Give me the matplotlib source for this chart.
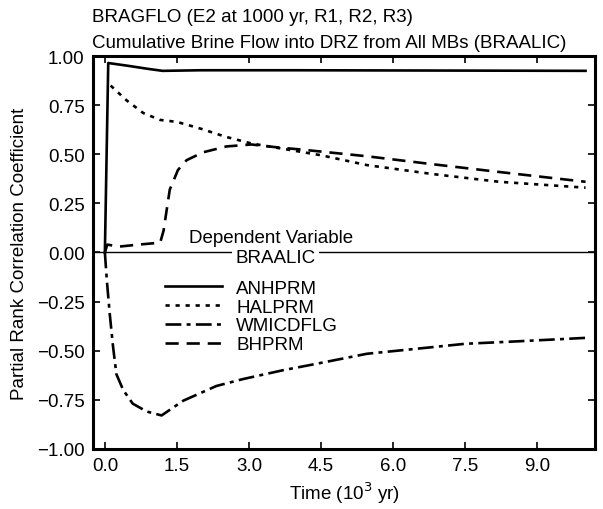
import matplotlib
matplotlib.use("Agg")
import matplotlib.pyplot as plt

plt.rcParams['font.family'] = ['Liberation Sans', 'DejaVu Sans']

# time in 10^3 yr, PRCC values
anh_t = [0.0, 0.07, 0.5, 0.9, 1.2, 2.0, 4.0, 6.0, 8.0, 10.0]
anh_v = [0.0, 0.965, 0.95, 0.935, 0.925, 0.928, 0.928, 0.927, 0.926, 0.925]

hal_t = [0.12, 0.45, 0.8, 1.15, 1.5, 2.0, 2.5, 3.05, 3.9, 4.5, 5.45, 6.8, 8.2, 10.0]
hal_v = [0.85, 0.775, 0.71, 0.675, 0.665, 0.63, 0.59, 0.555, 0.52, 0.495, 0.445, 0.40, 0.36, 0.33]

wmi_t = [0.0, 0.04, 0.1, 0.17, 0.24, 0.38, 0.58, 0.87, 1.18, 1.63, 2.32, 2.87,
         3.7, 4.4, 5.45, 6.5, 7.5, 8.55, 10.0]
wmi_v = [0.0, -0.14, -0.31, -0.48, -0.62, -0.70, -0.77, -0.81, -0.83, -0.755, -0.68, -0.645,
         -0.60, -0.567, -0.516, -0.49, -0.465, -0.453, -0.435]

bh_t = [0.0, 0.05, 0.3, 0.7, 1.15, 1.22, 1.35, 1.52, 1.7, 2.04, 2.53, 3.05, 3.6, 4.05,
        5.45, 6.8, 8.2, 10.0]
bh_v = [0.0, 0.04, 0.03, 0.04, 0.05, 0.11, 0.32, 0.42, 0.47, 0.51, 0.54, 0.55, 0.535, 0.525,
        0.49, 0.45, 0.41, 0.36]

xticks = [0.0, 1.5, 3.0, 4.5, 6.0, 7.5, 9.0]
yticks = [-1.0, -0.75, -0.5, -0.25, 0.0, 0.25, 0.5, 0.75, 1.0]

fs = 13.5
fig = plt.figure(figsize=(6.03, 5.10), dpi=100)
ax = fig.add_axes([0.154, 0.118, 0.833, 0.770])

lw = 1.9
ax.plot(anh_t, anh_v, color='black', lw=lw, label='ANHPRM')
ax.plot(hal_t, hal_v, color='black', lw=lw, dashes=(1.6, 2.2), label='HALPRM')
ax.plot(wmi_t, wmi_v, color='black', lw=lw, dashes=(6, 2, 1.5, 2), label='WMICDFLG')
ax.plot(bh_t, bh_v, color='black', lw=lw, dashes=(5, 3), label='BHPRM')

ax.axhline(0, color='black', lw=1.0, zorder=1)
ax.text(3.45, 0.075, 'Dependent Variable', ha='center', va='center', fontsize=fs)
ax.text(3.55, -0.025, 'BRAALIC', ha='center', va='center', fontsize=fs,
        bbox=dict(facecolor='white', edgecolor='none', pad=2.5))

ax.legend(loc='upper left', bbox_to_anchor=(0.125, 0.454), frameon=False, fontsize=fs,
          handlelength=3.05, handletextpad=0.75, labelspacing=0.085, borderpad=0)

ax.set_xlim(-0.25, 10.2)
ax.set_ylim(-1.0, 1.0)
ax.set_xticks(xticks)
ax.set_yticks(yticks)
ax.set_xticklabels(['%.1f' % t for t in xticks])
ax.set_yticklabels(['%.2f' % t if t >= 0 else '\u2212%.2f' % -t for t in yticks])
ax.tick_params(direction='in', top=True, right=True, length=5, width=1.2,
               labelsize=fs, pad=6)
for s in ax.spines.values():
    s.set_linewidth(2.2)

ax.set_xlabel('Time (10$^3$ yr)', fontsize=fs, labelpad=4)
ax.set_ylabel('Partial Rank Correlation Coefficient', fontsize=fs, labelpad=6)

fig.text(0.153, 0.966, 'BRAGFLO (E2 at 1000 yr, R1, R2, R3)', fontsize=fs, va='center')
fig.text(0.153, 0.914, 'Cumulative Brine Flow into DRZ from All MBs (BRAALIC)', fontsize=fs, va='center')

fig.savefig('out.png', dpi=100)
